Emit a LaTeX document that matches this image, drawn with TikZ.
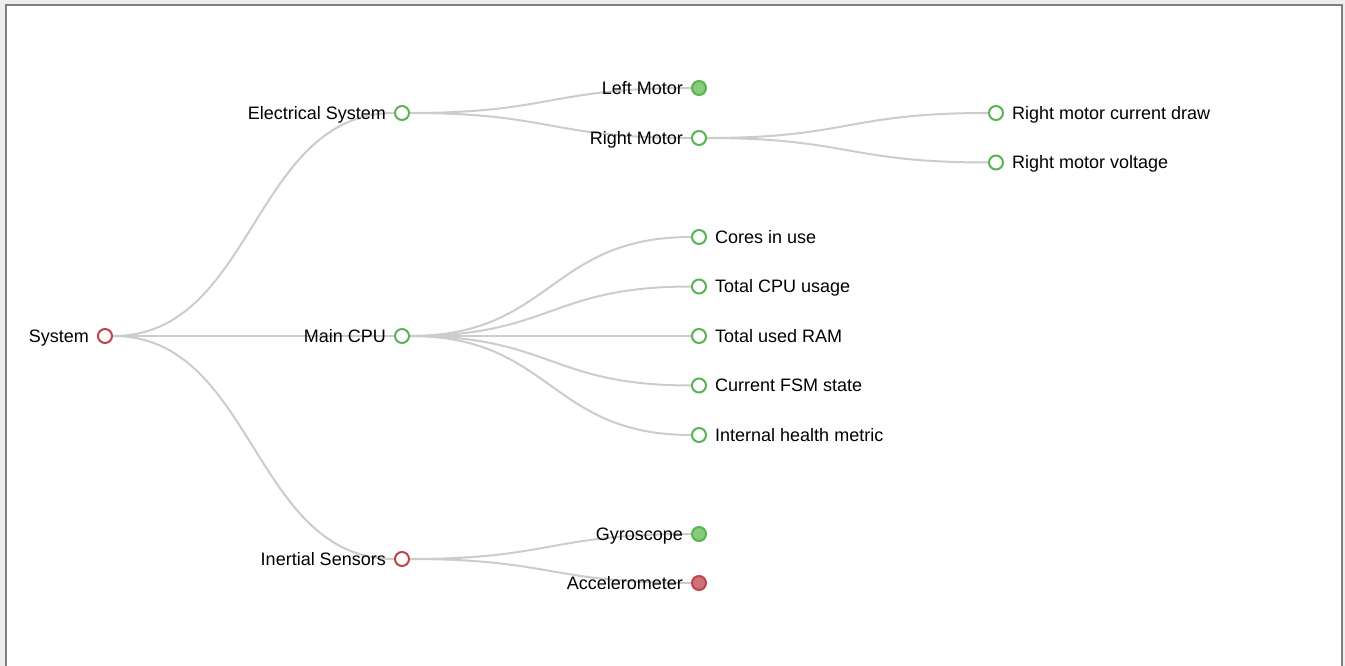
\documentclass[tikz,border=0pt]{standalone}
\usepackage{fontspec}
\setmainfont{Liberation Sans}
\usepackage{tikz}
\usetikzlibrary{positioning}
\usetikzlibrary{backgrounds}

\definecolor{enlacegris}{RGB}{204,204,204}
\definecolor{verde}{RGB}{88,180,80}
\definecolor{verdeclaro}{RGB}{138,202,124}
\definecolor{rojo}{RGB}{192,66,76}
\definecolor{rojoclaro}{RGB}{205,114,124}
\definecolor{marco}{RGB}{128,128,128}
\definecolor{fondomarco}{RGB}{238,238,238}

\tikzset{
  nodo/.style={circle, line width=2pt, minimum size=14pt, inner sep=0pt, fill=white},
  nodoverde/.style={nodo, draw=verde},
  nodorojo/.style={nodo, draw=rojo},
  plegadoverde/.style={nodo, draw=verde, fill=verdeclaro},
  plegadorojo/.style={nodo, draw=rojo, fill=rojoclaro},
  enlace/.style={draw=enlacegris, line width=2pt},
  etiqizq/.style={label={[xshift=-8pt]left:#1}},
  etiqder/.style={label={[xshift=8pt]right:#1}},
  every label/.style={inner sep=0pt, text height=12.9pt, text depth=0pt, font=\fontsize{18}{20}\selectfont}
}

\begin{document}
\begin{tikzpicture}[x=1pt, y=-1pt, on grid]
  \useasboundingbox (0,0) rectangle (1345,666);

  % Nodo raiz
  \node[nodorojo, etiqizq=System] (sys) at (105,336) {};

  % Primer nivel
  \node[nodoverde, above right=223pt and 297pt of sys, etiqizq=Electrical System] (elec) {};
  \node[nodoverde, right=297pt of sys, etiqizq=Main CPU] (cpu) {};
  \node[nodorojo, below right=223pt and 297pt of sys, etiqizq=Inertial Sensors] (iner) {};

  % Segundo nivel (motores)
  \node[plegadoverde, above right=25pt and 297pt of elec, etiqizq=Left Motor] (lmot) {};
  \node[nodoverde, below right=25pt and 297pt of elec, etiqizq=Right Motor] (rmot) {};

  % Segundo nivel (CPU)
  \node[nodoverde, above right=99pt and 297pt of cpu, etiqder=Cores in use] (cores) {};
  \node[nodoverde, above right=49.5pt and 297pt of cpu, etiqder=Total CPU usage] (cpuuse) {};
  \node[nodoverde, right=297pt of cpu, etiqder=Total used RAM] (ram) {};
  \node[nodoverde, below right=49.5pt and 297pt of cpu, etiqder=Current FSM state] (fsm) {};
  \node[nodoverde, below right=99pt and 297pt of cpu, etiqder=Internal health metric] (health) {};

  % Segundo nivel (sensores)
  \node[plegadoverde, above right=25pt and 297pt of iner, etiqizq=Gyroscope] (gyro) {};
  \node[plegadorojo, below right=24pt and 297pt of iner, etiqizq=Accelerometer] (acc) {};

  % Tercer nivel
  \node[nodoverde, above right=25pt and 297pt of rmot, etiqder=Right motor current draw] (rcur) {};
  \node[nodoverde, below right=24.5pt and 297pt of rmot, etiqder=Right motor voltage] (rvolt) {};

  \begin{pgfonlayer}{background}
    % Marco de la ventana
    \fill[fondomarco] (0,0) rectangle (1345,666);
    \fill[white] (5.5,5) rectangle (1342,666);
    \draw[marco, line width=2pt] (5.5,666) -- (5.5,5) -- (1342,5) -- (1342,666);

    % Conexiones
    \draw[enlace] (sys.east) .. controls +(142pt,0) and +(-142pt,0) .. (elec.west);
    \draw[enlace] (sys.east) -- (cpu.west);
    \draw[enlace] (sys.east) .. controls +(142pt,0) and +(-142pt,0) .. (iner.west);
    \draw[enlace] (elec.east) .. controls +(142pt,0) and +(-142pt,0) .. (lmot.west);
    \draw[enlace] (elec.east) .. controls +(142pt,0) and +(-142pt,0) .. (rmot.west);
    \draw[enlace] (rmot.east) .. controls +(142pt,0) and +(-142pt,0) .. (rcur.west);
    \draw[enlace] (rmot.east) .. controls +(142pt,0) and +(-142pt,0) .. (rvolt.west);
    \draw[enlace] (cpu.east) .. controls +(142pt,0) and +(-142pt,0) .. (cores.west);
    \draw[enlace] (cpu.east) .. controls +(142pt,0) and +(-142pt,0) .. (cpuuse.west);
    \draw[enlace] (cpu.east) -- (ram.west);
    \draw[enlace] (cpu.east) .. controls +(142pt,0) and +(-142pt,0) .. (fsm.west);
    \draw[enlace] (cpu.east) .. controls +(142pt,0) and +(-142pt,0) .. (health.west);
    \draw[enlace] (iner.east) .. controls +(142pt,0) and +(-142pt,0) .. (gyro.west);
    \draw[enlace] (iner.east) .. controls +(142pt,0) and +(-142pt,0) .. (acc.west);
  \end{pgfonlayer}
\end{tikzpicture}
\end{document}
